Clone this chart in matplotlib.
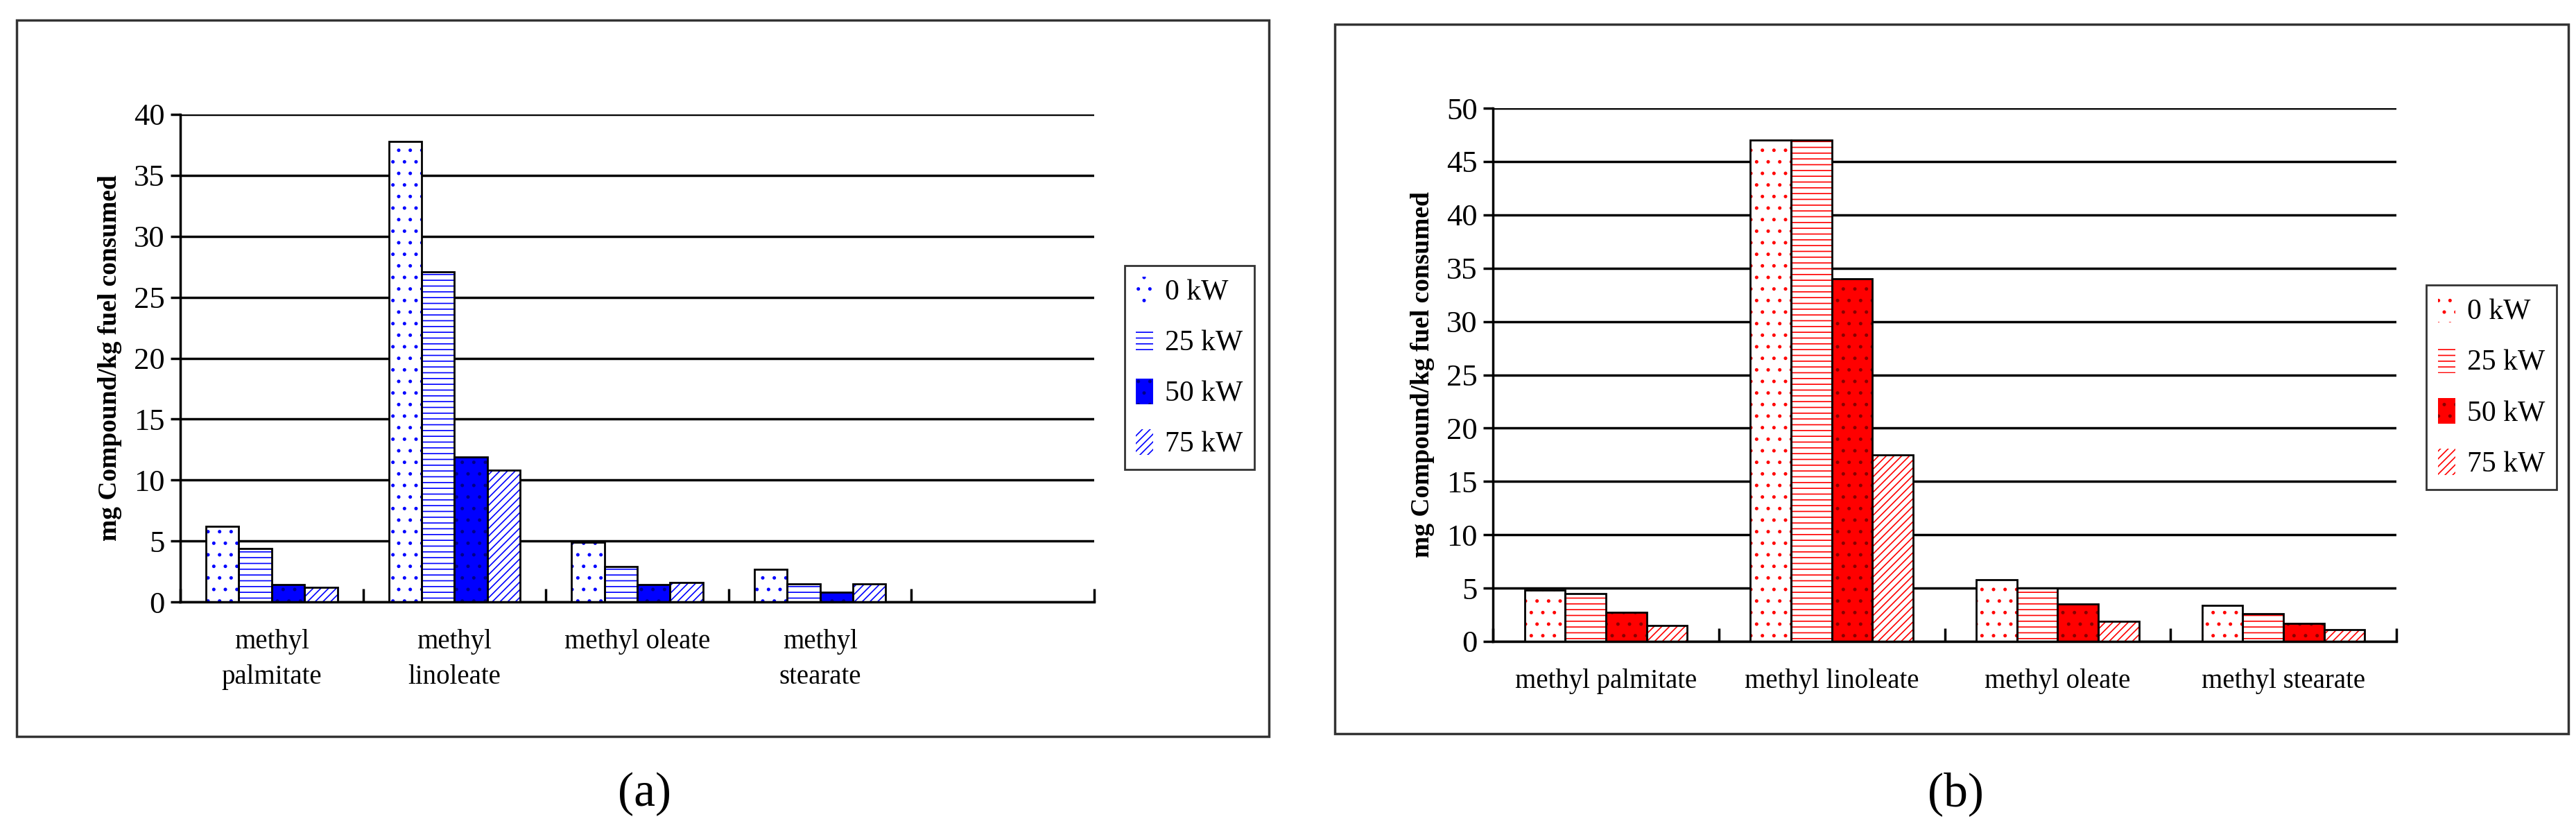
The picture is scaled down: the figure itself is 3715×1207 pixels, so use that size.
import matplotlib.pyplot as plt
import numpy as np
from matplotlib.patches import Rectangle

plt.rcParams['font.family'] = ['Liberation Serif', 'DejaVu Serif']
plt.rcParams['hatch.linewidth'] = 1.2

series = ["0 kW", "25 kW", "50 kW", "75 kW"]
cats_a = ["methyl\npalmitate", "methyl\nlinoleate", "methyl oleate", "methyl\nstearate", ""]
vals_a = [
    [6.2, 37.8, 4.9, 2.7],
    [4.4, 27.1, 2.9, 1.5],
    [1.4, 11.9, 1.4, 0.8],
    [1.2, 10.8, 1.6, 1.5],
]
cats_b = ["methyl palmitate", "methyl linoleate", "methyl oleate", "methyl stearate"]
vals_b = [
    [4.8, 47.0, 5.8, 3.4],
    [4.5, 47.0, 5.0, 2.6],
    [2.7, 34.0, 3.5, 1.7],
    [1.5, 17.5, 1.9, 1.1],
]

W, H = 3715, 1207
fig = plt.figure(figsize=(W / 100, H / 100), dpi=100)


def rect(x0, y0, x1, y1):
    # pixel box (top-left origin) -> figure fraction
    return [x0 / W, 1 - y1 / H, (x1 - x0) / W, (y1 - y0) / H]


def panel(ax_box, frame_box, leg_box, cats, vals, color, dark, ymax, caption, cap_x):
    fx0, fy0, fx1, fy1 = frame_box
    fig.patches.append(Rectangle((fx0 / W, 1 - fy1 / H), (fx1 - fx0) / W, (fy1 - fy0) / H,
                                 transform=fig.transFigure, fill=False, edgecolor="#333333", lw=2.5))
    ax = fig.add_axes(rect(*ax_box))
    n = len(cats)
    x = np.arange(n)
    w = 0.18
    styles = [("white", ".", color), ("white", "--", color), (color, ".", dark), ("white", "///", color)]
    handles = []
    for i, v in enumerate(vals):
        xs = np.arange(len(v)) - 1.5 * w + i * w
        fc, hatch, hc = styles[i]
        ax.bar(xs, v, w, color=fc, hatch=hatch, edgecolor=hc, linewidth=0, zorder=2)
        ax.bar(xs, v, w, fill=False, edgecolor="black", linewidth=2, zorder=3)
        handles.append(Rectangle((0, 0), 1, 1, facecolor=fc, hatch=hatch, edgecolor=hc, lw=0))
    ax.set_xlim(-0.5, n - 0.5)
    ax.set_ylim(0, ymax)
    ax.set_yticks(np.arange(0, ymax + 1, 5))
    ax.yaxis.grid(True, color="black", lw=2.5)
    ax.set_axisbelow(True)
    ax.set_xticks(np.arange(n + 1) - 0.5, minor=False)
    ax.set_xticklabels([])
    ax.set_xticks(x, minor=True)
    ax.set_xticklabels(cats, minor=True, fontsize=28, linespacing=1.5)
    ax.tick_params(axis="x", which="minor", length=0, pad=28)
    ax.tick_params(axis="x", which="major", length=14, width=2.5, direction="in")
    ax.tick_params(axis="y", length=10, width=2.5, labelsize=32, pad=6)
    for s in ["top", "right"]:
        ax.spines[s].set_visible(False)
    for s in ["left", "bottom"]:
        ax.spines[s].set_linewidth(2.5)
    ax.set_ylabel("mg Compound/kg fuel consumed", fontsize=27, fontweight="bold", labelpad=12)
    leg = fig.legend(handles, series, loc="center", bbox_to_anchor=(
        (leg_box[0] + leg_box[2]) / 2 / W, 1 - (leg_box[1] + leg_box[3]) / 2 / H),
        fontsize=30, frameon=True, fancybox=False, edgecolor="black",
        handlelength=0.6, handleheight=1.0, handletextpad=0.4, labelspacing=0.75,
        borderpad=0.4)
    leg.get_frame().set_linewidth(2)
    fig.text(cap_x / W, 1 - 1145 / H, caption, fontsize=50, ha="center", va="center")


panel((260, 165, 1578, 868), (24, 29, 1830, 1062), (1617, 374, 1814, 686),
      cats_a, vals_a, "#0000ff", "#00008b", 40, "(a)", 930)
panel((2153, 156, 3456, 925), (1925, 35, 3704, 1058), (3498, 406, 3688, 711),
      cats_b, vals_b, "#ff0000", "#8b0000", 50, "(b)", 2820)

fig.savefig("out.png", dpi=100, facecolor="white")
